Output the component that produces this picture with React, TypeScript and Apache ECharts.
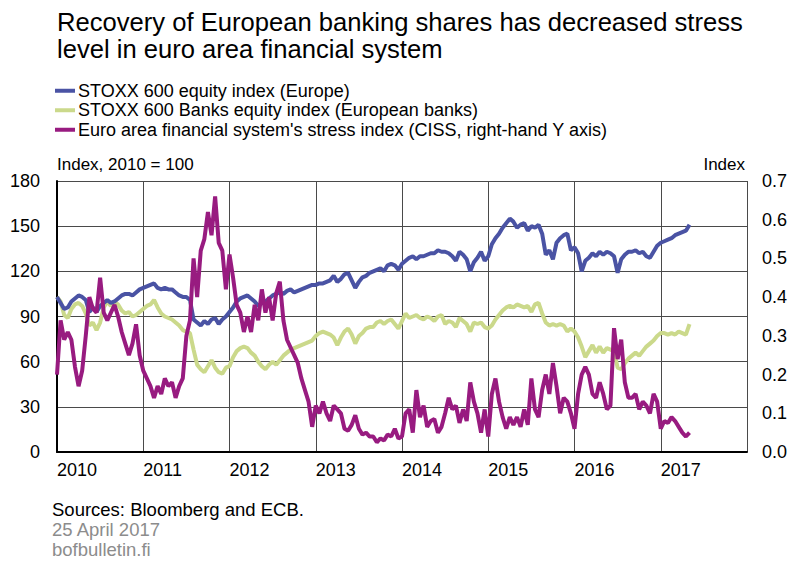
import React, { useEffect, useRef } from 'react';
import * as echarts from 'echarts';

const TITLE = 'Recovery of European banking shares has decreased stress\nlevel in euro area financial system';
const NAME_STOXX = 'STOXX 600 equity index (Europe)';
const NAME_BANKS = 'STOXX 600 Banks equity index (European banks)';
const NAME_CISS = "Euro area financial system's stress index (CISS, right-hand Y axis)";
const LEFT_AXIS_NAME = 'Index, 2010 = 100';
const RIGHT_AXIS_NAME = 'Index';
const SOURCE = 'Sources: Bloomberg and ECB.';
const DATE_NOTE = '25 April 2017';
const SITE = 'bofbulletin.fi';

// observations are semi-monthly, starting January 2010
const START_YEAR = 2010;
const OBS_PER_YEAR = 24;
const X_MIN = 2010;
const X_MAX = 2018;

// STOXX 600 (index, 2010 = 100)
const stoxx600 = [
  103, 99, 95, 96, 100, 102, 104, 103, 101, 93, 96, 93, 97, 99, 101, 99, 100, 102, 104, 105, 105, 104, 106, 108,
  109, 110, 111, 112, 109, 108, 109, 108, 108, 106, 104, 103, 103, 101, 88, 86, 84, 87, 85, 88, 89, 85, 88, 90,
  93, 96, 100, 102, 103, 104, 102, 100, 97, 99, 100, 102, 104, 105, 106, 105, 107, 108, 106, 107, 108, 109, 110, 111,
  111, 112, 112, 113, 114, 117, 113, 115, 118, 119, 114, 109, 113, 116, 117, 119, 120, 121, 122, 120, 124, 125, 124, 121,
  125, 127, 129, 130, 128, 130, 130, 131, 132, 132, 134, 133, 133, 132, 130, 127, 133, 131, 128, 120, 126, 129, 133, 127,
  130, 138, 142, 145, 149, 152, 155, 153, 149, 151, 152, 147, 150, 149, 151, 145, 131, 134, 128, 139, 142, 144, 145, 134,
  136, 132, 120, 127, 129, 132, 130, 133, 131, 133, 132, 130, 119, 128, 131, 133, 133, 134, 132, 133, 130, 129, 133, 137,
  139, 140, 141, 142, 144, 145, 146, 147, 151,
];

// STOXX 600 Banks (index, 2010 = 100)
const stoxxBanks = [
  103, 100, 91, 89, 95, 98, 99, 97, 92, 84, 86, 81, 86, 96, 100, 97, 100, 98, 94, 92, 93, 90, 91, 93,
  95, 97, 98, 101, 96, 92, 90, 89, 88, 86, 84, 81, 80, 79, 68, 58, 55, 53, 57, 61, 56, 53, 52, 56,
  57, 63, 67, 69, 70, 69, 66, 64, 60, 57, 55, 58, 60, 58, 61, 64, 66, 68, 69, 70, 71, 72, 73, 74,
  77, 79, 80, 79, 78, 76, 71, 76, 80, 82, 78, 72, 77, 79, 82, 83, 83, 86, 87, 85, 87, 88, 85, 82,
  87, 92, 89, 90, 91, 89, 88, 90, 89, 87, 90, 91, 85, 87, 86, 83, 89, 87, 85, 80, 86, 85, 86, 83,
  82, 84, 88, 91, 94, 96, 97, 96, 98, 97, 96, 97, 93, 98, 99, 92, 86, 84, 85, 84, 85, 84, 80, 82,
  80, 76, 70, 63, 67, 71, 66, 70, 66, 69, 68, 67, 56, 55, 59, 62, 64, 66, 64, 67, 70, 72, 74, 77,
  79, 79, 78, 79, 78, 80, 79, 78, 85,
];

// CISS (right-hand axis)
const ciss = [
  0.20, 0.34, 0.29, 0.31, 0.29, 0.22, 0.17, 0.21, 0.30, 0.40, 0.37, 0.36, 0.45, 0.36, 0.34, 0.36, 0.38, 0.35, 0.31, 0.28, 0.25, 0.28, 0.33, 0.25,
  0.21, 0.19, 0.17, 0.14, 0.17, 0.15, 0.19, 0.17, 0.18, 0.14, 0.17, 0.19, 0.30, 0.34, 0.50, 0.40, 0.52, 0.55, 0.62, 0.56, 0.66, 0.54, 0.52, 0.42,
  0.51, 0.45, 0.38, 0.36, 0.31, 0.35, 0.31, 0.38, 0.34, 0.42, 0.36, 0.40, 0.34, 0.41, 0.44, 0.34, 0.29, 0.27, 0.25, 0.23, 0.19, 0.16, 0.13, 0.065,
  0.12, 0.10, 0.13, 0.10, 0.08, 0.12, 0.11, 0.10, 0.06, 0.055, 0.07, 0.095, 0.06, 0.045, 0.05, 0.04, 0.04, 0.025, 0.035, 0.03, 0.045, 0.04, 0.06, 0.035,
  0.04, 0.10, 0.11, 0.05, 0.16, 0.09, 0.12, 0.065, 0.08, 0.085, 0.05, 0.065, 0.10, 0.14, 0.11, 0.12, 0.075, 0.11, 0.08, 0.18, 0.13, 0.10, 0.05, 0.11,
  0.04, 0.15, 0.19, 0.13, 0.09, 0.06, 0.09, 0.07, 0.09, 0.065, 0.11, 0.07, 0.19, 0.11, 0.09, 0.16, 0.20, 0.15, 0.23, 0.17, 0.10, 0.14, 0.13, 0.10,
  0.06, 0.15, 0.20, 0.22, 0.20, 0.15, 0.14, 0.18, 0.15, 0.11, 0.12, 0.32, 0.24, 0.29, 0.18, 0.14, 0.14, 0.15, 0.11, 0.13, 0.12, 0.10, 0.15, 0.13,
  0.06, 0.08, 0.075, 0.09, 0.08, 0.065, 0.05, 0.04, 0.05,
];

const FONT = '"Liberation Sans", Arial, Helvetica, sans-serif';
const C_BLUE = '#4a53a4';
const C_GREEN = '#cbd98b';
const C_MAGENTA = '#981b80';

const toPoints = (arr: number[]) => arr.map((v, i) => [START_YEAR + i / OBS_PER_YEAR, v]);

export default function App() {
  const ref = useRef<HTMLDivElement>(null);
  useEffect(() => {
    if (!ref.current) return;
    const chart = echarts.init(ref.current, undefined, { renderer: 'svg' });
    chart.setOption({
      animation: false,
      backgroundColor: '#ffffff',
      textStyle: { fontFamily: FONT },
      title: {
        text: TITLE,
        left: 57,
        top: 8,
        padding: 0,
        textStyle: { fontFamily: FONT, fontSize: 25.6, fontWeight: 'normal', color: '#000', lineHeight: 27 },
      },
      legend: {
        orient: 'vertical',
        left: 55,
        top: 81,
        padding: 0,
        itemGap: 0,
        itemWidth: 20,
        itemHeight: 4,
        icon: 'rect',
        data: [NAME_STOXX, NAME_BANKS, NAME_CISS],
        textStyle: { fontFamily: FONT, fontSize: 18, color: '#000', lineHeight: 19.5, padding: [0, 0, 0, -2] },
      },
      grid: { left: 57, right: 53, top: 181, bottom: 128, containLabel: false },
      xAxis: {
        type: 'value',
        min: X_MIN,
        max: X_MAX,
        interval: 1,
        axisLine: { show: true, lineStyle: { color: '#000', width: 2 } },
        axisTick: { show: false },
        axisLabel: {
          show: true,
          align: 'left',
          margin: 9,
          fontSize: 18,
          color: '#000',
          fontFamily: FONT,
          showMaxLabel: false,
          formatter: (v: number) => (v >= X_MAX ? '' : String(Math.round(v))),
        },
        splitLine: { show: true, lineStyle: { color: '#4a4a4a', width: 1 } },
      },
      yAxis: [
        {
          type: 'value',
          min: 0,
          max: 180,
          interval: 30,
          axisLine: { show: true, lineStyle: { color: '#000', width: 2 } },
          axisTick: { show: false },
          axisLabel: { margin: 17, fontSize: 18, color: '#000', fontFamily: FONT },
          splitLine: { show: true, lineStyle: { color: '#4a4a4a', width: 1 } },
        },
        {
          type: 'value',
          min: 0,
          max: 0.7,
          interval: 0.1,
          position: 'right',
          axisLine: { show: false },
          axisTick: { show: false },
          axisLabel: {
            margin: 15,
            fontSize: 18,
            color: '#000',
            fontFamily: FONT,
            formatter: (v: number) => v.toFixed(1),
          },
          splitLine: { show: false },
        },
      ],
      graphic: [
        {
          type: 'text',
          left: 57,
          top: 156,
          style: { text: LEFT_AXIS_NAME, fontSize: 17, fontFamily: FONT, fill: '#000' },
        },
        {
          type: 'text',
          right: 55,
          top: 156,
          style: { text: RIGHT_AXIS_NAME, fontSize: 17, fontFamily: FONT, fill: '#000' },
        },
        {
          type: 'text',
          left: 52,
          top: 500,
          style: { text: SOURCE, fontSize: 18.5, fontFamily: FONT, fill: '#000' },
        },
        {
          type: 'text',
          left: 52,
          top: 520,
          style: { text: DATE_NOTE, fontSize: 18.5, fontFamily: FONT, fill: '#8c8c8c' },
        },
        {
          type: 'text',
          left: 52,
          top: 540,
          style: { text: SITE, fontSize: 18.5, fontFamily: FONT, fill: '#8c8c8c' },
        },
      ],
      series: [
        {
          name: NAME_BANKS,
          type: 'line',
          yAxisIndex: 0,
          data: toPoints(stoxxBanks),
          showSymbol: false,
          symbol: 'none',
          color: C_GREEN,
          lineStyle: { color: C_GREEN, width: 4 },
        },
        {
          name: NAME_STOXX,
          type: 'line',
          yAxisIndex: 0,
          data: toPoints(stoxx600),
          showSymbol: false,
          symbol: 'none',
          color: C_BLUE,
          lineStyle: { color: C_BLUE, width: 4 },
        },
        {
          name: NAME_CISS,
          type: 'line',
          yAxisIndex: 1,
          data: toPoints(ciss),
          showSymbol: false,
          symbol: 'none',
          color: C_MAGENTA,
          lineStyle: { color: C_MAGENTA, width: 4 },
        },
      ],
    });
    return () => chart.dispose();
  }, []);
  return (
    <div
      ref={ref}
      style={{ position: 'fixed', left: 0, top: 0, width: 800, height: 580, background: '#fff' }}
    />
  );
}
